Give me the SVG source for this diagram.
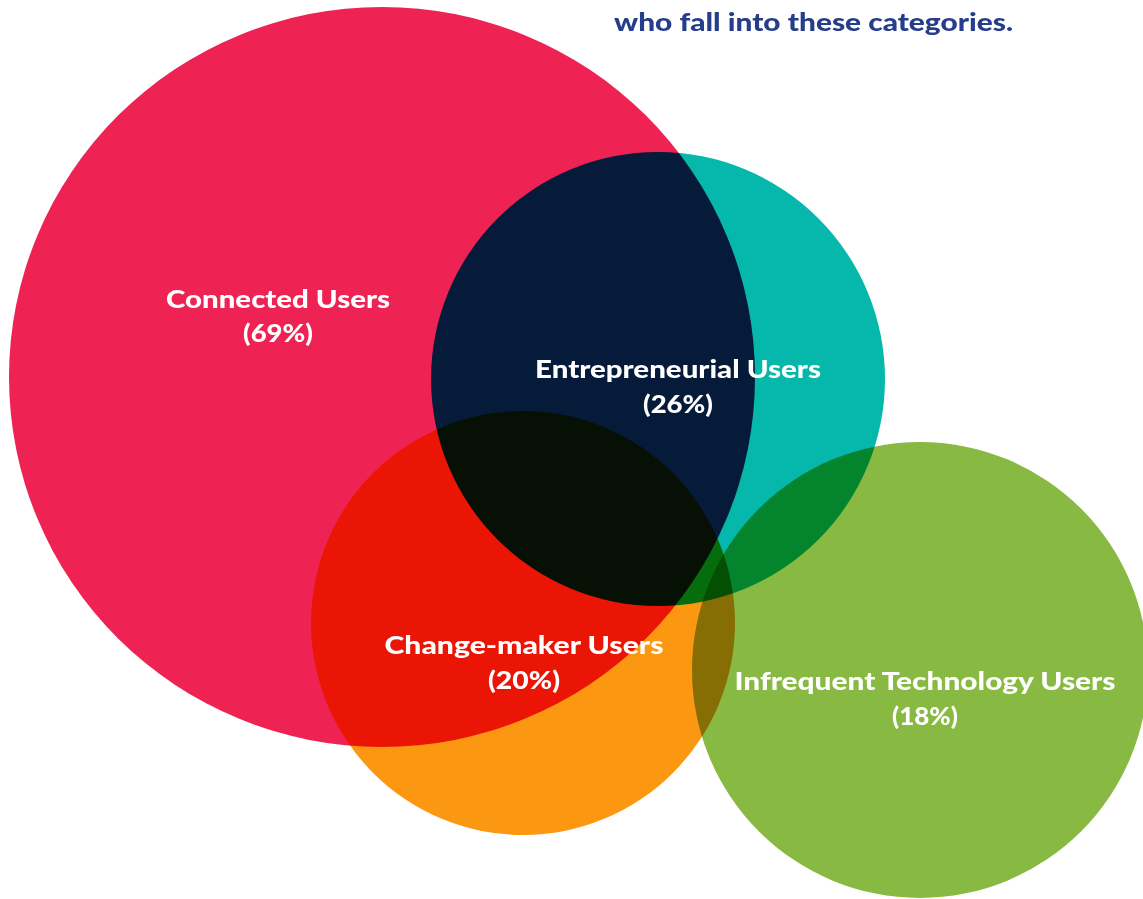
<svg xmlns="http://www.w3.org/2000/svg" width="1143" height="899" viewBox="0 0 1143 899">
<style>
.c{mix-blend-mode:multiply}
.lbl{font-family:Lato,"Open Sans","DejaVu Sans",sans-serif;font-weight:900;font-size:24px;fill:#ffffff;text-anchor:middle}
.title{font-family:Lato,"Open Sans","DejaVu Sans",sans-serif;font-weight:900;font-size:25px;fill:#263d8b}
</style>
<rect width="1143" height="899" fill="#ffffff"/>
<g id="connected">
<ellipse class="c" cx="382" cy="377" rx="373" ry="370" fill="#ee2354"/>
<text class="lbl" x="278" y="308" textLength="224" lengthAdjust="spacingAndGlyphs">Connected Users</text>
<text class="lbl" x="278" y="342" textLength="70" lengthAdjust="spacingAndGlyphs">(69%)</text>
</g>
<g id="entrepreneurial">
<circle class="c" cx="658" cy="379" r="227" fill="#06b8ac"/>
<text class="lbl" x="678" y="378" textLength="286" lengthAdjust="spacingAndGlyphs">Entrepreneurial Users</text>
<text class="lbl" x="678" y="413" textLength="70" lengthAdjust="spacingAndGlyphs">(26%)</text>
</g>
<g id="changemaker">
<circle class="c" cx="523" cy="623" r="212" fill="#fc9711"/>
<text class="lbl" x="524" y="654" textLength="279" lengthAdjust="spacingAndGlyphs">Change-maker Users</text>
<text class="lbl" x="524" y="689" textLength="72" lengthAdjust="spacingAndGlyphs">(20%)</text>
</g>
<g id="infrequent">
<circle class="c" cx="920" cy="670" r="228" fill="#88b942"/>
<text class="lbl" x="925" y="690" textLength="381" lengthAdjust="spacingAndGlyphs">Infrequent Technology Users</text>
<text class="lbl" x="925" y="725" textLength="66" lengthAdjust="spacingAndGlyphs">(18%)</text>
</g>
<g id="connectors"></g>
<text class="title" x="614" y="31" textLength="399" lengthAdjust="spacingAndGlyphs">who fall into these categories.</text>
</svg>
